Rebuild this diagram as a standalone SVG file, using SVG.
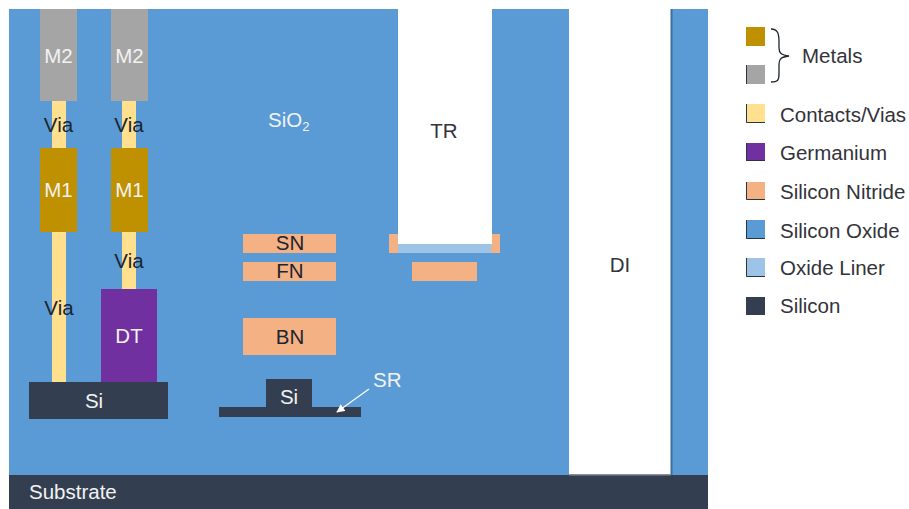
<svg xmlns="http://www.w3.org/2000/svg" width="909" height="509" viewBox="0 0 909 509">
<style>
text{font-family:"Liberation Sans",Arial,sans-serif;font-size:20.500px}
.c{text-anchor:middle}
.w{fill:#f2f2f2}
.d{fill:#1c2530}
.l{fill:#33333a}
.metal{fill:#bf9000}
.grey{fill:#a5a5a5}
.via{fill:#ffe08f}
.ge{fill:#7030a0}
.sn{fill:#f4b183}
.ox{fill:#5b9bd5}
.lin{fill:#9dc3e6}
.si{fill:#333f50}
.edge{fill:none;stroke:#1c2530;stroke-width:1.300}
.rim{fill:none;stroke:#2a3440;stroke-width:1}
</style>
<defs>
<marker id="ah" viewBox="0 0 10 10" refX="9" refY="5" markerWidth="7" markerHeight="7" orient="auto-start-reverse"><path d="M0 0L10 5L0 10z" fill="#fff"/></marker>
</defs>
<rect id="oxide" class="ox" x="9" y="9" width="699" height="466"/>
<rect id="substrate-bar" class="si" x="9" y="475" width="699" height="34"/>
<g id="deep-isolation"><rect x="569" y="9" width="103" height="466" fill="#fff"/><rect x="670.500" y="9" width="2" height="466" fill="#3f6f9c"/><rect x="569" y="474" width="102" height="1.500" fill="#8a8f96"/><text class="c l" x="620" y="272">DI</text></g>
<g id="m2-left"><rect class="grey" x="40" y="9" width="37" height="92"/><text class="c w" x="58.500" y="63">M2</text></g>
<g id="m2-right"><rect class="grey" x="111" y="9" width="37" height="92"/><text class="c w" x="129.500" y="63">M2</text></g>
<g id="via-left-top"><rect class="via" x="52" y="101" width="14" height="47"/><text class="c d" x="58.500" y="132">Via</text></g>
<g id="via-right-top"><rect class="via" x="122" y="101" width="14" height="47"/><text class="c d" x="129" y="132">Via</text></g>
<g id="m1-left"><rect class="metal" x="40" y="148" width="37" height="84"/><text class="c w" x="58.500" y="197">M1</text></g>
<g id="m1-right"><rect class="metal" x="111" y="148" width="37" height="84"/><text class="c w" x="129.500" y="197">M1</text></g>
<g id="via-left-bottom"><rect class="via" x="52" y="232" width="14" height="150"/><text class="c d" x="59" y="315">Via</text></g>
<g id="via-right-bottom"><rect class="via" x="122" y="232" width="14" height="57"/><text class="c d" x="129" y="268">Via</text></g>
<g id="dt"><rect class="ge" x="101" y="289" width="56" height="93"/><text class="c w" x="129" y="343">DT</text></g>
<g id="si-left"><rect class="si" x="29" y="382" width="139" height="37"/><text class="c w" x="94" y="408">Si</text></g>
<g id="si-sr"><path class="si" d="M266 379H312V407H361V417H219V407H266Z"/><text class="c w" x="289" y="404">Si</text></g>
<g id="sio2"><text class="w" x="268" y="127">SiO<tspan font-size="13" dy="4">2</tspan></text></g>
<g id="sn"><rect class="sn" x="243" y="234" width="93" height="19"/><text class="c d" x="290" y="250">SN</text></g>
<g id="fn"><rect class="sn" x="243" y="262" width="93" height="19"/><text class="c d" x="290" y="278">FN</text></g>
<g id="bn"><rect class="sn" x="243" y="318" width="93" height="37"/><text class="c d" x="290" y="344">BN</text></g>
<g id="tr-mask"><rect class="sn" x="389" y="234" width="111" height="19"/><rect x="398" y="9" width="94" height="235" fill="#fff"/><rect class="lin" x="398" y="244" width="93" height="9"/><text class="c l" x="444" y="138">TR</text></g>
<g id="lower-nitride"><rect class="sn" x="412" y="262" width="65" height="19"/></g>
<g id="sr"><text class="w" x="373" y="387">SR</text></g>
<g id="substrate"><text class="w" x="29" y="499">Substrate</text></g>
<g id="connectors"><line x1="369" y1="389" x2="337" y2="412" stroke="#fff" stroke-width="1.200" marker-end="url(#ah)"/><path class="edge" d="M771 29C778 29 779 34 779 42V48C779 53 781 55 789 56C781 57 779 59 779 64V74C779 80 778 82 771 82"/></g>
<g id="legend-metal"><rect class="metal" x="746" y="27" width="19" height="19"/></g>
<g id="legend-grey"><rect class="grey" x="746" y="65" width="19" height="19"/><path class="rim" d="M746.500 65V84"/></g>
<text class="l" x="802" y="63">Metals</text>
<g id="legend-via"><rect class="via" x="746" y="104" width="19" height="19"/><path class="rim" d="M746.500 104V122.500H765"/><text class="l" x="780" y="122">Contacts/Vias</text></g>
<g id="legend-ge"><rect class="ge" x="746" y="143" width="19" height="18"/><path class="rim" d="M746.500 143V160.500H765"/><text class="l" x="780" y="160">Germanium</text></g>
<g id="legend-sn"><rect class="sn" x="746" y="182" width="19" height="18"/><path class="rim" d="M746.500 182V199.500H765"/><text class="l" x="780" y="199">Silicon Nitride</text></g>
<g id="legend-ox"><rect class="ox" x="746" y="220" width="19" height="19"/><path class="rim" d="M746.500 220V238.500H765"/><text class="l" x="780" y="238">Silicon Oxide</text></g>
<g id="legend-lin"><rect class="lin" x="746" y="258" width="19" height="19"/><path class="rim" d="M746.500 258V276.500H765"/><text class="l" x="780" y="275">Oxide Liner</text></g>
<g id="legend-si"><rect class="si" x="746" y="297" width="19" height="18"/><text class="l" x="780" y="313">Silicon</text></g>
</svg>
